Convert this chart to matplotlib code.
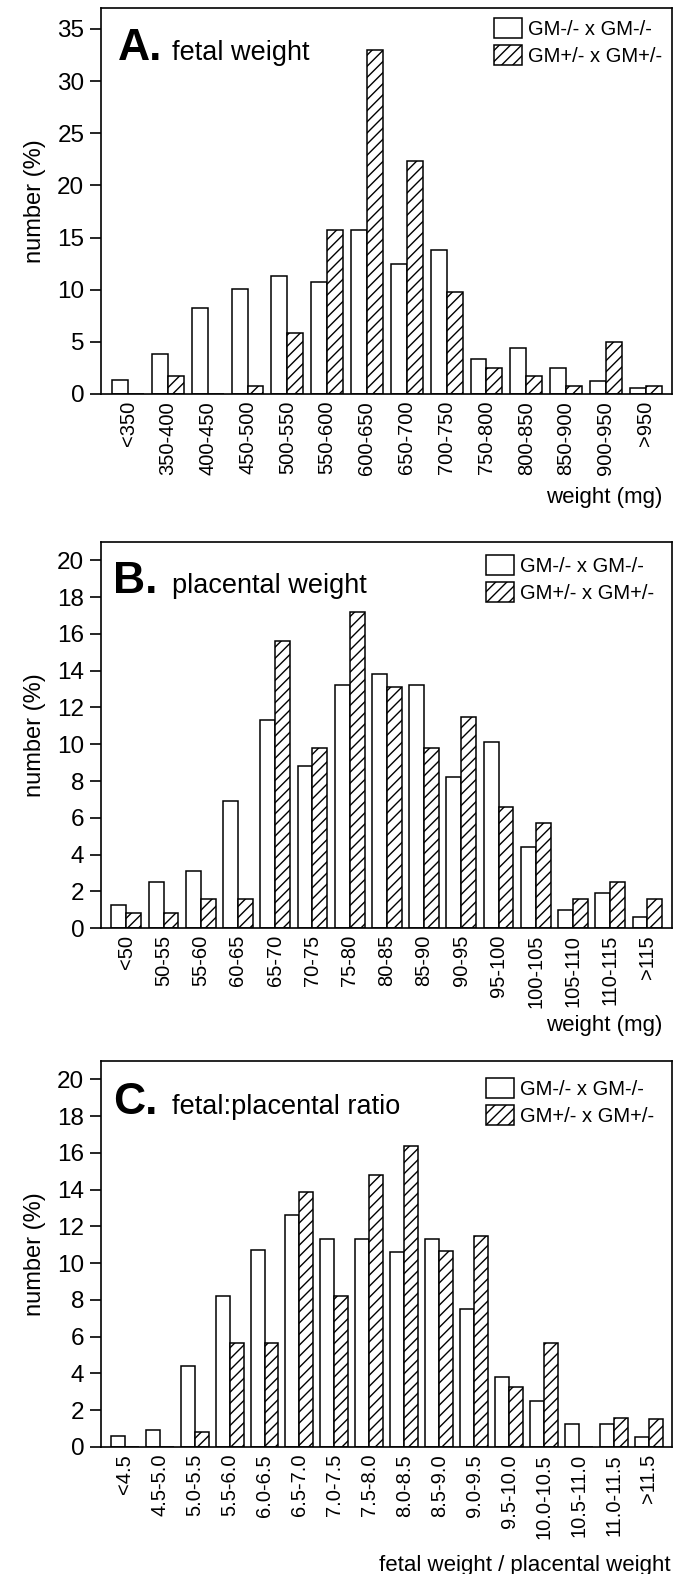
import numpy as np
import matplotlib
matplotlib.use("Agg")
import matplotlib.pyplot as plt

plt.rcParams["font.family"] = ["Liberation Sans", "DejaVu Sans"]
plt.rcParams["hatch.linewidth"] = 1.0
plt.rcParams["axes.linewidth"] = 1.2

series_names = ["GM-/- x GM-/-", "GM+/- x GM+/-"]

# A. fetal weight
fetal_bins = ["<350", "350-400", "400-450", "450-500", "500-550", "550-600", "600-650",
              "650-700", "700-750", "750-800", "800-850", "850-900", "900-950", ">950"]
fetal_ko = [1.3, 3.8, 8.2, 10.1, 11.3, 10.7, 15.7, 12.5, 13.8, 3.4, 4.4, 2.5, 1.25, 0.6]
fetal_het = [0, 1.7, 0, 0.8, 5.8, 15.7, 33.0, 22.3, 9.8, 2.5, 1.7, 0.8, 5.0, 0.8]

# B. placental weight
plac_bins = ["<50", "50-55", "55-60", "60-65", "65-70", "70-75", "75-80", "80-85",
             "85-90", "90-95", "95-100", "100-105", "105-110", "110-115", ">115"]
plac_ko = [1.27, 2.5, 3.1, 6.9, 11.3, 8.8, 13.2, 13.8, 13.2, 8.2, 10.1, 4.4, 1.0, 1.9, 0.6]
plac_het = [0.8, 0.8, 1.6, 1.6, 15.6, 9.8, 17.2, 13.1, 9.8, 11.5, 6.6, 5.7, 1.6, 2.5, 1.6]

# C. fetal:placental ratio
ratio_bins = ["<4.5", "4.5-5.0", "5.0-5.5", "5.5-6.0", "6.0-6.5", "6.5-7.0", "7.0-7.5",
              "7.5-8.0", "8.0-8.5", "8.5-9.0", "9.0-9.5", "9.5-10.0", "10.0-10.5",
              "10.5-11.0", "11.0-11.5", ">11.5"]
ratio_ko = [0.58, 0.9, 4.4, 8.2, 10.7, 12.6, 11.3, 11.3, 10.6, 11.3, 7.5, 3.8, 2.5, 1.25, 1.25, 0.55]
ratio_het = [0, 0, 0.8, 5.65, 5.65, 13.9, 8.2, 14.8, 16.4, 10.65, 11.5, 3.25, 5.65, 0, 1.55, 1.5]

fig = plt.figure(figsize=(6.79, 15.74), dpi=100)

panels = [
    # rect, letter, title, bins, ko, het, ymax, yticks, xlabel, label pos, title y, letter x, legend anchor
    ([0.1487, 0.7497, 0.8410, 0.2452], "A.", "fetal weight", fetal_bins, fetal_ko, fetal_het,
     37.0, range(0, 36, 5), "weight (mg)", (0.984, -0.241), 0.866, 0.030, (0.982, 0.974)),
    ([0.1487, 0.4104, 0.8410, 0.2452], "B.", "placental weight", plac_bins, plac_ko, plac_het,
     21.0, range(0, 21, 2), "weight (mg)", (0.984, -0.225), 0.868, 0.021, (0.968, 0.966)),
    ([0.1487, 0.0807, 0.8410, 0.2452], "C.", "fetal:placental ratio", ratio_bins, ratio_ko, ratio_het,
     21.0, range(0, 21, 2), "fetal weight / placental weight", (0.998, -0.28), 0.863, 0.021,
     (0.968, 0.956)),
]

for rect, letter, title, bins, ko, het, ymax, yticks, xlabel, lpos, ty, tx, lanchor in panels:
    ax = fig.add_axes(rect)
    x = np.arange(len(bins))
    w = 0.4
    ax.bar(x - w / 2, ko, w, color="white", edgecolor="black", linewidth=1.1, label=series_names[0])
    ax.bar(x + w / 2, het, w, color="white", edgecolor="black", linewidth=1.1, hatch="///",
           label=series_names[1])

    ax.set_xlim(-0.68, len(bins) - 1 + 0.66)
    ax.set_ylim(0, ymax)
    ax.set_yticks(list(yticks))
    ax.tick_params(axis="y", direction="out", length=8, width=1.2, labelsize=17.5, pad=4)
    ax.set_xticks(x, bins, rotation=90)
    ax.tick_params(axis="x", length=0, labelsize=14.5, pad=5)

    ax.set_ylabel("number (%)", fontsize=17, labelpad=8)
    ax.set_xlabel(xlabel, fontsize=16, ha="right", va="top")
    ax.xaxis.set_label_coords(*lpos)

    ax.text(tx, ty, letter, transform=ax.transAxes, fontsize=32, fontweight="bold",
            ha="left", va="baseline")
    ax.text(0.124, ty, title, transform=ax.transAxes, fontsize=19.5, ha="left", va="baseline")

    ax.legend(loc="upper right", bbox_to_anchor=lanchor, frameon=False, fontsize=14.5,
              handlelength=1.35, handleheight=1.15, handletextpad=0.3, labelspacing=0.3,
              borderpad=0, borderaxespad=0)

fig.savefig("out.png", dpi=100)
